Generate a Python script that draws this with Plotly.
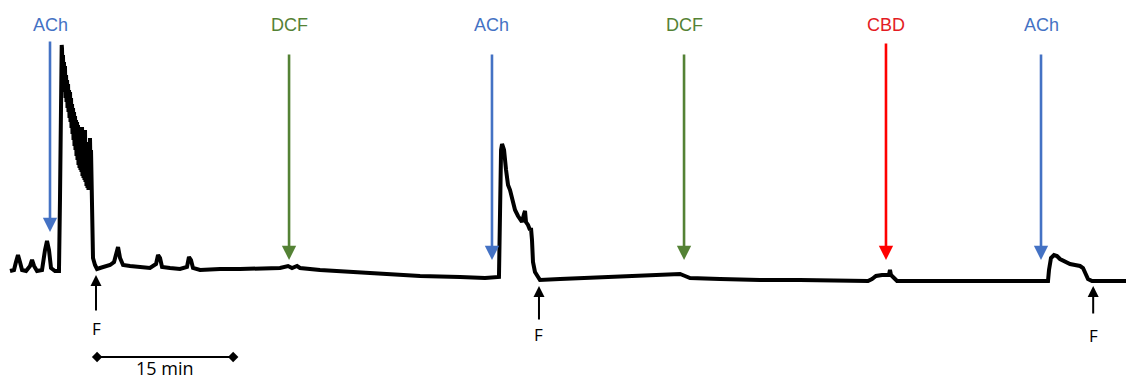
import plotly.graph_objects as go

# ---- recorded trace (time in min, tension in a.u.) ----
t1 = [1.10, 1.54, 1.76, 1.98, 2.20, 2.43, 2.87, 3.31, 3.53, 3.75, 4.08, 4.63, 4.96, 5.18, 5.40, 5.62,
      6.06, 6.50, 6.61, 6.72, 6.80,
      6.83, 6.89, 6.94, 7.00, 7.05, 7.11, 7.16, 7.22, 7.28, 7.33, 7.39, 7.44, 7.50, 7.55, 7.61, 7.66,
      7.72, 7.77, 7.83, 7.88, 7.94, 7.99, 8.05, 8.10, 8.16, 8.21, 8.27, 8.32, 8.38, 8.43, 8.49, 8.54,
      8.60, 8.65, 8.71, 8.76, 8.82, 8.87, 8.93, 8.98, 9.04, 9.09, 9.15, 9.20, 9.26, 9.31, 9.37, 9.42,
      9.48, 9.53, 9.59, 9.64, 9.70, 9.75, 9.81, 9.87, 9.92, 9.98, 10.03, 10.09, 10.14,
      10.25, 10.47, 10.69, 11.02, 11.57, 12.13, 12.57, 12.79, 13.01, 13.23, 13.56,
      14.33, 15.43, 16.53, 17.20, 17.42, 17.64, 17.86, 18.74, 19.84, 20.61, 20.83, 21.05, 21.27, 22.05,
      24.25, 26.46, 28.66, 30.86, 31.75, 32.19, 32.74, 33.07, 35.27, 38.58, 41.89, 46.30, 50.71, 53.46,
      55.00]
a1 = [1.1, 1.2, 2.0, 2.7, 2.0, 1.2, 1.1, 1.6, 2.2, 1.6, 1.1, 1.2, 3.2, 4.1, 3.2, 1.4,
      1.1, 1.1, 8.2, 18.2, 23.7,
      23.4, 21.2, 22.7, 19.7, 22.0, 19.0, 21.6, 18.4, 20.7, 18.0, 20.2, 17.4, 19.8, 17.0, 19.2, 16.4,
      19.0, 16.0, 18.4, 15.4, 17.8, 14.8, 17.4, 14.2, 17.0, 13.6, 16.6, 13.2, 16.2, 12.6, 16.0, 12.2,
      15.7, 11.7, 15.2, 11.4, 14.8, 11.2, 15.4, 11.0, 15.5, 10.6, 14.2, 10.4, 15.0, 10.2, 15.2, 10.0,
      13.2, 9.6, 13.4, 9.4, 13.7, 9.2, 14.0, 9.7, 14.4, 10.7, 13.2, 8.2, 4.7,
      2.4, 1.7, 1.3, 1.4, 1.6, 1.7, 2.0, 3.0, 3.5, 2.4, 1.7,
      1.6, 1.5, 1.4, 1.8, 2.7, 2.4, 1.5, 1.4, 1.3, 1.5, 2.5, 2.2, 1.4, 1.2,
      1.3, 1.3, 1.3, 1.4, 1.6, 1.4, 1.6, 1.4, 1.2, 1.0, 0.8, 0.6, 0.5, 0.4,
      0.5]
t2 = [55.12, 55.23, 55.34, 55.56, 55.78, 56.00, 56.22, 56.44, 56.77, 57.10, 57.32, 57.54, 57.76, 57.87,
      57.98, 58.20, 58.42, 58.53, 58.64, 58.75, 58.97, 59.30, 59.52, 61.73, 66.14, 70.55, 74.96, 75.51,
      76.06, 79.37, 83.77, 88.18, 92.59, 95.68, 96.12, 96.56, 97.22, 97.99, 98.10, 98.21, 98.55, 98.88,
      101.41, 105.82, 110.23, 115.52]
a2 = [8.2, 13.2, 13.8, 13.2, 11.2, 9.7, 9.2, 8.2, 7.2, 6.6, 6.2, 6.0, 6.8, 7.1,
      6.0, 5.7, 5.2, 5.4, 4.2, 2.0, 1.0, 0.4, 0.2, 0.3, 0.5, 0.6, 0.8, 0.6,
      0.4, 0.3, 0.2, 0.2, 0.1, 0.1, 0.3, 0.6, 0.7, 0.7, 1.2, 0.7, 0.4, 0.1,
      0.1, 0.1, 0.1, 0.1]
t3 = [115.63, 115.85, 116.18, 116.51, 116.84, 117.39, 117.95, 118.50, 119.05, 119.38, 119.60, 119.93,
      120.37, 125.00]
a3 = [1.2, 2.4, 2.7, 2.6, 2.3, 2.0, 1.8, 1.7, 1.6, 1.4, 0.9, 0.3, 0.1, 0.1]

# ---- drug additions ----
drug_labels = ["ACh", "DCF", "ACh", "DCF", "CBD", "ACh"]
drug_times = [5.51, 31.86, 54.23, 75.40, 97.66, 114.75]
drug_tip = [5.0, 2.2, 2.2, 2.2, 2.2, 2.2]
drug_tail = [24.2, 22.9, 22.9, 22.9, 24.0, 22.9]
drug_text_colors = ["#4472C4", "#548235", "#4472C4", "#548235", "#E31B23", "#4472C4"]
drug_arrow_colors = ["#4472C4", "#548235", "#4472C4", "#548235", "#FF0000", "#4472C4"]
label_level = 25.7

# ---- washouts (F) ----
wash_times = [10.58, 59.41, 120.50]
wash_tip = [0.7, -0.4, -0.4]
wash_tail = [-3.0, -3.9, -3.3]
wash_text = [-4.6, -5.2, -5.3]

# ---- scale bar ----
bar_start = 10.70
bar_len = 15
bar_level = -7.5
bar_text_level = -8.55
bar_label = "15 min"

t_all = t1 + t2 + t3
a_all = a1 + a2 + a3

fig = go.Figure()
fig.add_trace(go.Scatter(x=t_all, y=a_all, mode="lines",
                         line=dict(color="black", width=4), hoverinfo="skip"))
fig.add_trace(go.Scatter(x=[bar_start, bar_start + bar_len], y=[bar_level, bar_level],
                         mode="lines+markers", line=dict(color="black", width=2),
                         marker=dict(symbol="diamond", size=8, color="black"), hoverinfo="skip"))

ann = []
for lab, t, tip, tail, tc, ac in zip(drug_labels, drug_times, drug_tip, drug_tail,
                                     drug_text_colors, drug_arrow_colors):
    ann.append(dict(x=t, y=label_level, text=lab, showarrow=False, xref="x", yref="y",
                    font=dict(family="Liberation Sans, Arial", size=18, color=tc)))
    ann.append(dict(x=t, y=tip, ax=t, ay=tail, axref="x", ayref="y", xref="x", yref="y",
                    text="", showarrow=True, arrowhead=2, arrowsize=1.1, arrowwidth=2.6,
                    arrowcolor=ac, standoff=0))
for t, tip, tail, ty in zip(wash_times, wash_tip, wash_tail, wash_text):
    ann.append(dict(x=t, y=tip, ax=t, ay=tail, axref="x", ayref="y", xref="x", yref="y",
                    text="", showarrow=True, arrowhead=2, arrowsize=1.1, arrowwidth=2,
                    arrowcolor="black", standoff=0))
    ann.append(dict(x=t, y=ty, text="F", showarrow=False, xref="x", yref="y",
                    font=dict(family="Open Sans", size=17, color="black")))
ann.append(dict(x=bar_start + bar_len / 2, y=bar_text_level, text=bar_label, showarrow=False,
                xref="x", yref="y", borderpad=0,
                font=dict(family="Open Sans", size=18, color="black")))

# the page adds an 8 px body margin; the figure is sized to fill the rest of the window
fig.update_layout(width=1126, height=373, margin=dict(l=0, r=0, t=0, b=0),
                  paper_bgcolor="white", plot_bgcolor="white", showlegend=False,
                  annotations=ann,
                  xaxis=dict(range=[0.88, 125.0], visible=False, fixedrange=True),
                  yaxis=dict(range=[-9.9, 27.4], visible=False, fixedrange=True))
fig.write_html("out.html", config={"displayModeBar": False})
